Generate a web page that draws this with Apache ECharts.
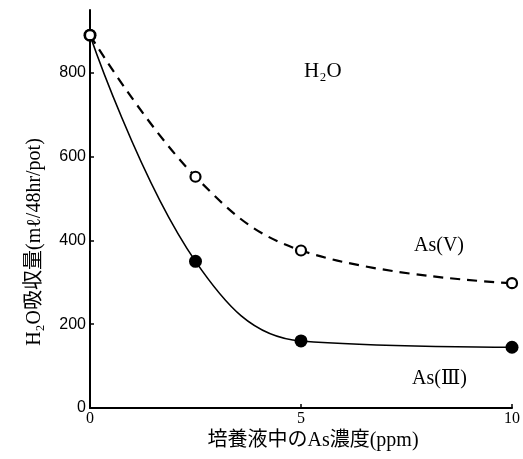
<!DOCTYPE html>
<html><head><meta charset="utf-8">
<script src="https://cdn.jsdelivr.net/npm/echarts@6/dist/echarts.min.js"></script>
<style>html,body{margin:0;padding:0;background:#fff}#c{width:523px;height:459px}</style>
</head><body><div id="c"></div>
<script>
const concentration = [0, 2.5, 5, 10];
const asV = [890, 552, 376, 298];
const asIII = [890, 350, 160, 145];
const xTicks = [0, 5, 10];
const yTicks = [0, 200, 400, 600, 800];

const serif = '"Liberation Serif","DejaVu Serif","Noto Sans CJK JP",serif';
const cjk = '"Liberation Serif","Noto Sans CJK JP",serif';

const chart = echarts.init(document.getElementById('c'));
chart.setOption({
  animation: false,
  backgroundColor: '#fff',
  grid: {left: 90, right: 8, top: 10, bottom: 51, containLabel: false},
  xAxis: {
    type: 'value', min: 0, max: 10, interval: 5,
    axisLine: {lineStyle: {color: '#000', width: 2}},
    axisTick: {inside: true, length: 4, lineStyle: {color: '#000', width: 1.5}},
    axisLabel: {color: '#000', fontFamily: serif, fontSize: 16, margin: 3,
      formatter: v => xTicks.includes(v) ? String(v) : ''},
    splitLine: {show: false}
  },
  yAxis: {
    type: 'value', min: 0, max: 950, interval: 200,
    axisLine: {show: true, lineStyle: {color: '#000', width: 2}},
    axisTick: {inside: true, length: 4, lineStyle: {color: '#000', width: 1.5}},
    axisLabel: {color: '#000', fontFamily: '"Liberation Sans Narrow","Liberation Sans",Arial,sans-serif', fontSize: 16, margin: 4,
      showMaxLabel: false,
      formatter: v => yTicks.includes(v) ? String(v) : ''},
    splitLine: {show: false}
  },
  series: [
    {
      name: 'As(V)', type: 'line', smooth: 0.4,
      data: concentration.map((x, i) => [x, asV[i]]),
      symbol: 'circle', symbolSize: 10,
      itemStyle: {color: '#fff', borderColor: '#000', borderWidth: 2.2},
      lineStyle: {color: '#000', width: 2.2, type: [10, 7]},
      z: 4
    },
    {
      name: 'As(III)', type: 'line', smooth: 0.4,
      data: concentration.map((x, i) => [x, asIII[i]]),
      symbol: 'circle', symbolSize: 13,
      itemStyle: {color: '#000', borderColor: '#000', borderWidth: 0},
      lineStyle: {color: '#000', width: 1.6},
      z: 3
    }
  ],
  graphic: [
    {type: 'text', left: 304, top: 61, style: {text: 'H₂O', fill: '#000', font: '21px ' + serif}},
    {type: 'text', left: 414, top: 236, style: {text: 'As(V)', fill: '#000', font: '20px ' + serif}},
    {type: 'text', left: 412, top: 369, style: {text: 'As(Ⅲ)', fill: '#000', font: '20px ' + serif}},
    {type: 'text', x: 35, y: 242, rotation: Math.PI / 2,
      style: {text: 'H₂O吸収量(mℓ/48hr/pot)', fill: '#000', font: '20px ' + cjk,
        align: 'center', verticalAlign: 'middle'}},
    {type: 'text', x: 313, y: 441,
      style: {text: '培養液中のAs濃度(ppm)', fill: '#000', font: '20px ' + cjk,
        align: 'center', verticalAlign: 'middle'}}
  ]
});
</script></body></html>
